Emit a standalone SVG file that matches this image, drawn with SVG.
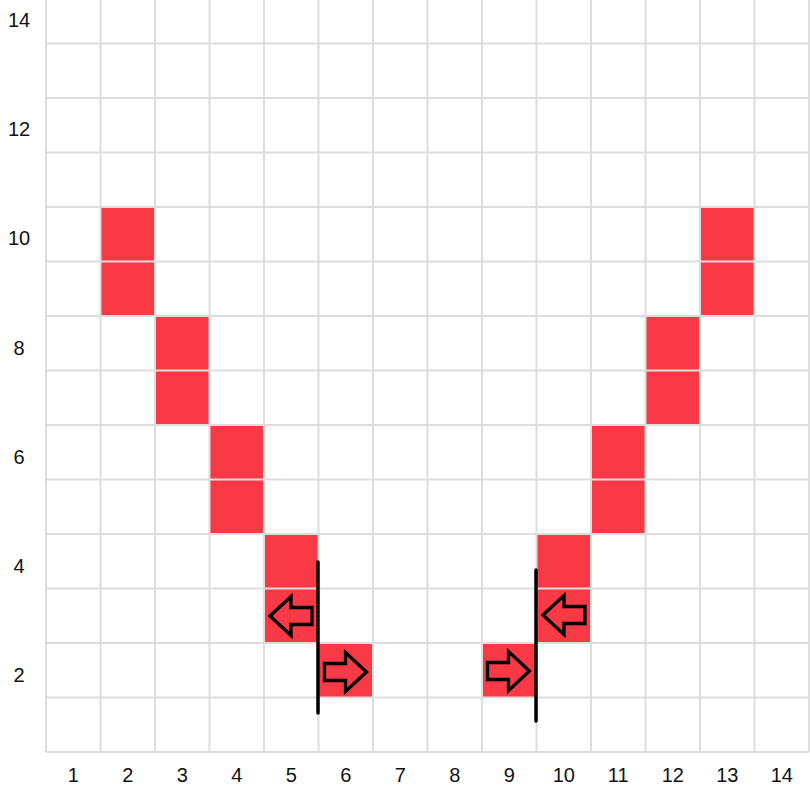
<svg xmlns="http://www.w3.org/2000/svg" xmlns:xlink="http://www.w3.org/1999/xlink" width="810" height="811" viewBox="0 0 810 811">
<style>
.cell{fill:#f93a46}
.grid line{stroke:#dddddd;stroke-width:2}
.lbl{font-family:"Liberation Sans",Arial,sans-serif;font-size:20px;fill:#111;text-anchor:middle}
.wall{stroke:#000;stroke-width:3.5;stroke-linecap:round}
.arr{fill:none;stroke:#000;stroke-width:3.3;stroke-linejoin:miter}
</style>
<defs>
<path id="arrowR" d="M -21,-8.5 H 0 V -19.5 L 21,0 L 0,19.5 V 8.5 H -21 Z"/>
</defs>
<rect x="0" y="0" width="810" height="811" fill="#ffffff"/>
<g id="cells">
<g id="c2-9"><rect class="cell" x="100.5" y="207" width="54.5" height="109"/></g>
<g id="c3-7"><rect class="cell" x="155" y="316" width="54.5" height="109"/></g>
<g id="c4-5"><rect class="cell" x="209.5" y="425" width="54.5" height="109"/></g>
<g id="c5-3"><rect class="cell" x="264" y="534" width="54.5" height="109"/></g>
<g id="c6-2"><rect class="cell" x="318.5" y="643" width="54.5" height="54.5"/></g>
<g id="c9-2"><rect class="cell" x="482" y="643" width="54.5" height="54.5"/></g>
<g id="c10-3"><rect class="cell" x="536.5" y="534" width="54.5" height="109"/></g>
<g id="c11-5"><rect class="cell" x="591" y="425" width="54.5" height="109"/></g>
<g id="c12-7"><rect class="cell" x="645.5" y="316" width="54.5" height="109"/></g>
<g id="c13-9"><rect class="cell" x="700" y="207" width="54.5" height="109"/></g>
</g>
<g id="grid" class="grid">
<line x1="46" y1="0" x2="46" y2="752"/>
<line x1="100.5" y1="0" x2="100.5" y2="752"/>
<line x1="155" y1="0" x2="155" y2="752"/>
<line x1="209.5" y1="0" x2="209.5" y2="752"/>
<line x1="264" y1="0" x2="264" y2="752"/>
<line x1="318.5" y1="0" x2="318.5" y2="752"/>
<line x1="373" y1="0" x2="373" y2="752"/>
<line x1="427.5" y1="0" x2="427.5" y2="752"/>
<line x1="482" y1="0" x2="482" y2="752"/>
<line x1="536.5" y1="0" x2="536.5" y2="752"/>
<line x1="591" y1="0" x2="591" y2="752"/>
<line x1="645.5" y1="0" x2="645.5" y2="752"/>
<line x1="700" y1="0" x2="700" y2="752"/>
<line x1="754.5" y1="0" x2="754.5" y2="752"/>
<line x1="809" y1="0" x2="809" y2="752"/>
<line x1="46" y1="43.5" x2="809" y2="43.5"/>
<line x1="46" y1="98" x2="809" y2="98"/>
<line x1="46" y1="152.5" x2="809" y2="152.5"/>
<line x1="46" y1="207" x2="809" y2="207"/>
<line x1="46" y1="261.5" x2="809" y2="261.5"/>
<line x1="46" y1="316" x2="809" y2="316"/>
<line x1="46" y1="370.5" x2="809" y2="370.5"/>
<line x1="46" y1="425" x2="809" y2="425"/>
<line x1="46" y1="479.5" x2="809" y2="479.5"/>
<line x1="46" y1="534" x2="809" y2="534"/>
<line x1="46" y1="588.5" x2="809" y2="588.5"/>
<line x1="46" y1="643" x2="809" y2="643"/>
<line x1="46" y1="697.5" x2="809" y2="697.5"/>
<line x1="46" y1="752" x2="809" y2="752"/>
</g>
<g id="labels">
<text class="lbl" x="73.25" y="782">1</text>
<text class="lbl" x="127.75" y="782">2</text>
<text class="lbl" x="182.25" y="782">3</text>
<text class="lbl" x="236.75" y="782">4</text>
<text class="lbl" x="291.25" y="782">5</text>
<text class="lbl" x="345.75" y="782">6</text>
<text class="lbl" x="400.25" y="782">7</text>
<text class="lbl" x="454.75" y="782">8</text>
<text class="lbl" x="509.25" y="782">9</text>
<text class="lbl" x="563.75" y="782">10</text>
<text class="lbl" x="618.25" y="782">11</text>
<text class="lbl" x="672.75" y="782">12</text>
<text class="lbl" x="727.25" y="782">13</text>
<text class="lbl" x="781.75" y="782">14</text>
<text class="lbl" x="19" y="27">14</text>
<text class="lbl" x="19" y="136">12</text>
<text class="lbl" x="19" y="245">10</text>
<text class="lbl" x="19" y="355">8</text>
<text class="lbl" x="19" y="464">6</text>
<text class="lbl" x="19" y="573">4</text>
<text class="lbl" x="19" y="682">2</text>
</g>
<g id="connectors">
<line class="wall" x1="318" y1="562" x2="318" y2="713"/>
<line class="wall" x1="536" y1="570" x2="536" y2="721"/>
<use xlink:href="#arrowR" class="arr" transform="translate(291,616) scale(-1,1)"/>
<use xlink:href="#arrowR" class="arr" transform="translate(345.5,672)"/>
<use xlink:href="#arrowR" class="arr" transform="translate(508.5,671)"/>
<use xlink:href="#arrowR" class="arr" transform="translate(564,615) scale(-1,1)"/>
</g>
</svg>
